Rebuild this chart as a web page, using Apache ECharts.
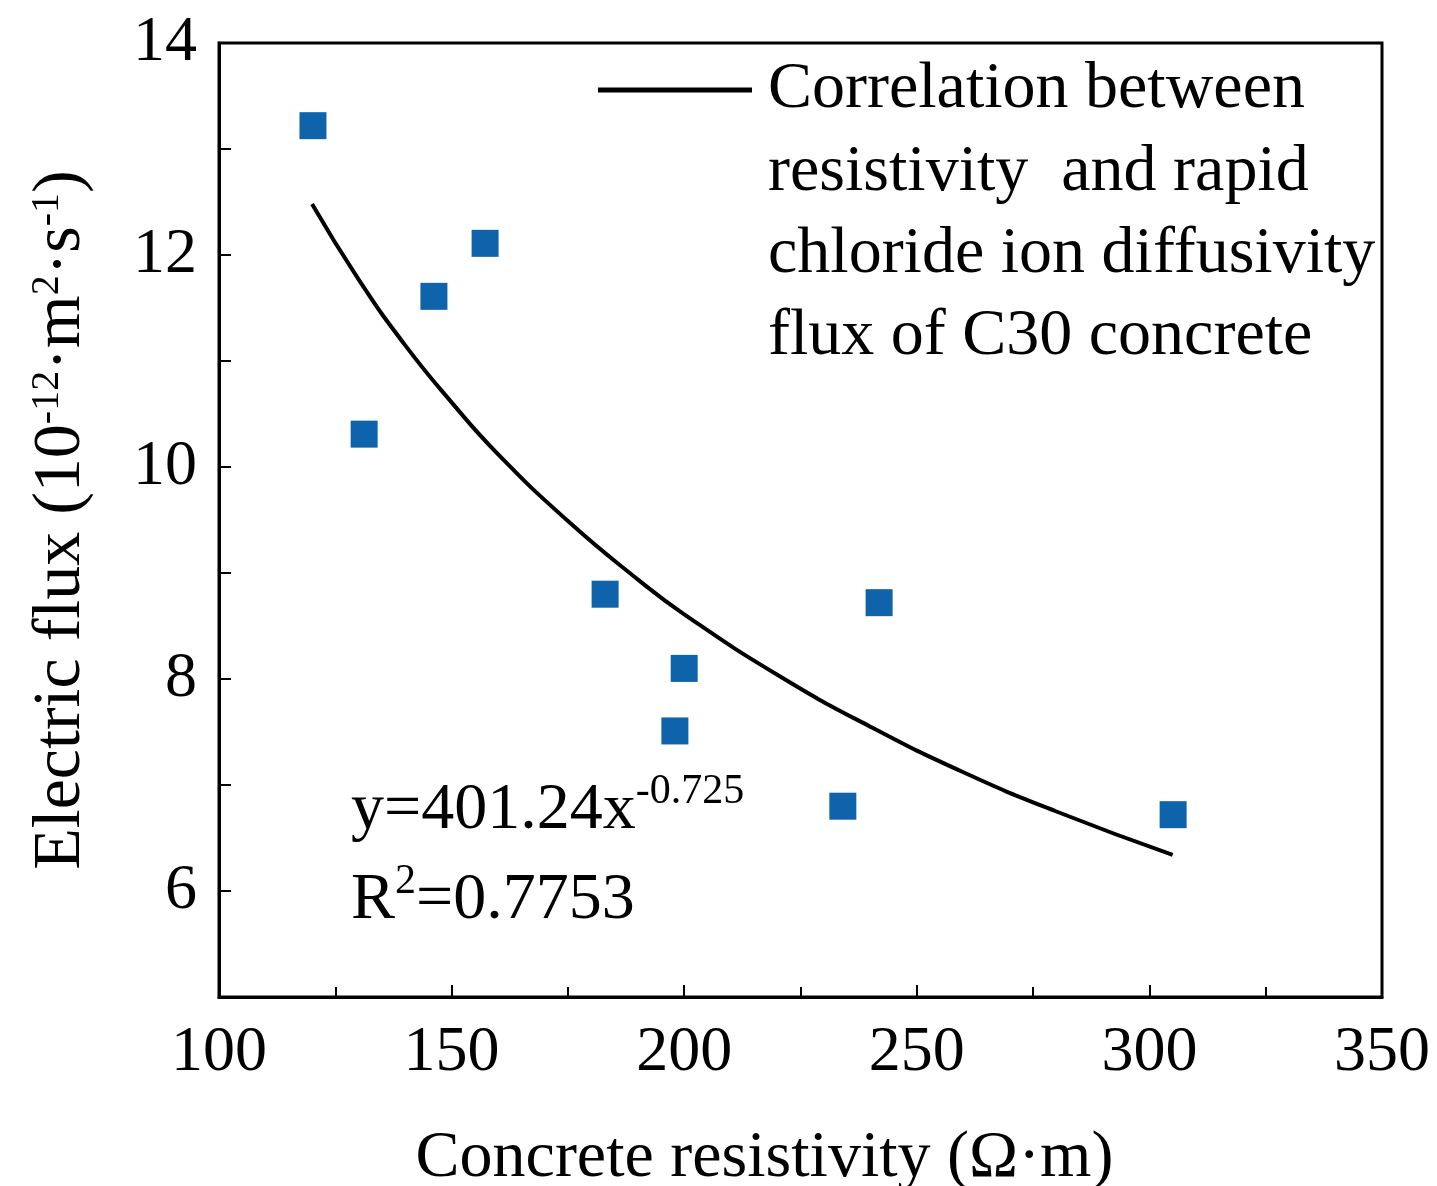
<!DOCTYPE html>
<html>
<head>
<meta charset="utf-8">
<script src="https://cdn.jsdelivr.net/npm/echarts@6/dist/echarts.min.js"></script>
<style>html,body{margin:0;padding:0;background:#fff;}#c{width:1437px;height:1186px;}</style>
</head>
<body>
<div id="c"></div>
<script>
// measured data points
const resistivity = [120.2, 131.2, 146.2, 157.2, 183.0, 198.0, 200.0, 234.1, 241.9, 305.1];
const electricFlux = [13.22, 10.31, 11.61, 12.11, 8.80, 7.51, 8.10, 6.80, 8.72, 6.72];
// points
const fitX = [120, 130, 140, 150, 160, 175, 190, 200, 220, 240, 260, 280, 305];
const fitY = [12.48, 11.77, 11.15, 10.61, 10.12, 9.49, 8.94, 8.61, 8.04, 7.55, 7.12, 6.75, 6.34];
const legendLines = ['Correlation between', 'resistivity  and rapid', 'chloride ion diffusivity', 'flux of C30 concrete'];
const seriesName = legendLines.join(' ');

const FONT = "'Liberation Serif', 'Times New Roman', serif";
const scatterData = resistivity.map((x, i) => [x, electricFlux[i]]);
const fitData = fitX.map((x, i) => [x, fitY[i]]);

const chart = echarts.init(document.getElementById('c'), null, {renderer: 'canvas'});
chart.setOption({
  backgroundColor: '#fff',
  animation: false,
  grid: {left: 219, right: 55, top: 43, bottom: 189, containLabel: false, outerBoundsMode: 'none',
    show: true, borderColor: '#000', borderWidth: 3, backgroundColor: 'transparent'},
  legend: {
    data: [{name: seriesName, icon: 'rect', itemStyle: {color: '#000'}}],
    left: 598, top: 57, padding: 0,
    itemWidth: 154, itemHeight: 5,
    formatter: () => legendLines[0],
    textStyle: {fontFamily: FONT, fontSize: 66, lineHeight: 66, color: '#000', padding: [0, 0, 0, 11]}
  },
  xAxis: {
    type: 'value', min: 100, max: 350, interval: 50,
    name: 'Concrete resistivity (Ω·m)', nameLocation: 'middle', nameGap: 129,
    nameTextStyle: {fontFamily: FONT, fontSize: 66, lineHeight: 66, color: '#000', padding: [0, 72, 0, 0]},
    axisLine: {show: true, lineStyle: {color: '#000', width: 3}},
    axisTick: {show: true, inside: true, length: 12, lineStyle: {color: '#000', width: 2}},
    minorTick: {show: true, splitNumber: 2, length: 10, lineStyle: {color: '#000', width: 2}},
    splitLine: {show: false},
    axisLabel: {fontFamily: FONT, fontSize: 64, lineHeight: 64, color: '#000', margin: 24}
  },
  yAxis: {
    type: 'value', min: 5, max: 14, interval: 1,
    name: 'Electric flux (10{sup|-12}·m{sup|2}·s{sup|-1})', nameLocation: 'middle', nameGap: 124, nameRotate: 90,
    nameTextStyle: {fontFamily: FONT, fontSize: 68, lineHeight: 68, color: '#000',
      rich: {sup: {fontFamily: FONT, fontSize: 40, lineHeight: 30, verticalAlign: 'top', color: '#000'}}},
    axisLine: {show: true, lineStyle: {color: '#000', width: 3}},
    axisTick: {show: true, inside: true, length: 12, lineStyle: {color: '#000', width: 2}},
    splitLine: {show: false},
    axisLabel: {fontFamily: FONT, fontSize: 64, lineHeight: 64, color: '#000', margin: 22,
      formatter: v => (v % 2 === 0 ? String(v) : '')}
  },
  series: [
    {
      type: 'scatter', name: 'data', data: scatterData,
      symbol: 'rect', symbolSize: 27,
      itemStyle: {color: '#0f63aa', opacity: 1}
    },
    {
      type: 'line', name: seriesName, data: fitData,
      smooth: true, showSymbol: false, symbol: 'none',
      lineStyle: {color: '#000', width: 4},
      itemStyle: {color: '#000'}
    }
  ],
  graphic: [
    ...legendLines.slice(1).map((t, i) => ({
      type: 'text', left: 768, top: 173 + i * 82 - 33,
      style: {text: t, fontFamily: FONT, fontSize: 66, lineHeight: 66, fill: '#000'}
    })),
    {
      type: 'text', left: 351, top: 771,
      style: {text: 'y=401.24x{sup|-0.725}', fontFamily: FONT, fontSize: 66, lineHeight: 80, fill: '#000',
        rich: {sup: {fontFamily: FONT, fontSize: 42, lineHeight: 42, verticalAlign: 'top', fill: '#000'}}}
    },
    {
      type: 'text', left: 351, top: 861,
      style: {text: 'R{sup|2}=0.7753', fontFamily: FONT, fontSize: 66, lineHeight: 80, fill: '#000',
        rich: {sup: {fontFamily: FONT, fontSize: 42, lineHeight: 42, verticalAlign: 'top', fill: '#000'}}}
    }
  ]
});
</script>
</body>
</html>
